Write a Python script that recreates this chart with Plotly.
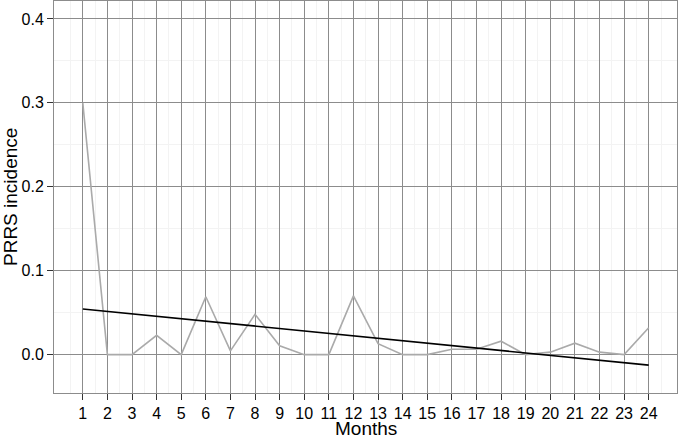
import plotly.graph_objects as go

months = list(range(1, 25))
incidence = [0.300, 0.000, 0.000, 0.023, 0.000, 0.069, 0.0045, 0.048, 0.0105, 0.000,
             0.000, 0.070, 0.013, 0.000, 0.000, 0.0065, 0.0065, 0.016, 0.000, 0.003,
             0.0137, 0.003, 0.000, 0.032]
trend_x = [1, 24]
trend_y = [0.0544, -0.0125]
x_ticks = list(range(1, 25))
y_ticks = [0.0, 0.1, 0.2, 0.3, 0.4]

fig = go.Figure()
fig.add_trace(go.Scatter(x=months, y=incidence, mode="lines",
                         line=dict(color="#aaaaaa", width=1.6), showlegend=False))
fig.add_trace(go.Scatter(x=trend_x, y=trend_y, mode="lines",
                         line=dict(color="#000000", width=1.6), showlegend=False))

font = dict(family="Liberation Sans, Arial, sans-serif", color="#000000")
fig.update_layout(
    width=678, height=438,
    margin=dict(l=54, r=1, t=1, b=45),
    paper_bgcolor="white", plot_bgcolor="white",
    font=font,
    xaxis=dict(
        range=[-0.17, 25.15], tickvals=x_ticks, ticktext=[str(t) for t in x_ticks],
        showgrid=True, gridcolor="#8c8c8c", gridwidth=1,
        minor=dict(tickvals=[t + 0.5 for t in range(-1, 25)], showgrid=True,
                   gridcolor="#f3f3f3", gridwidth=1, ticks=""),
        showline=True, mirror=True, linecolor="#8c8c8c", linewidth=1,
        ticks="outside", ticklen=6, tickcolor="#333333", tickwidth=1,
        tickfont=dict(size=16), zeroline=False, automargin=False,
    ),
    yaxis=dict(
        range=[-0.0457, 0.4214], tickvals=y_ticks, ticktext=[f"{v:.1f}" for v in y_ticks],
        showgrid=True, gridcolor="#8c8c8c", gridwidth=1,
        minor=dict(tickvals=[0.05, 0.15, 0.25, 0.35], showgrid=True,
                   gridcolor="#f3f3f3", gridwidth=1, ticks=""),
        showline=True, mirror=True, linecolor="#8c8c8c", linewidth=1,
        ticks="outside", ticklen=6, tickcolor="#333333", tickwidth=1,
        tickfont=dict(size=16), zeroline=False, automargin=False,
    ),
    annotations=[
        dict(text="Months", xref="paper", yref="paper", x=0.5, y=-0.0918,
             xanchor="center", yanchor="middle", showarrow=False,
             font=dict(size=19), borderpad=0),
        dict(text="PRRS incidence", xref="paper", yref="paper", x=-0.0706, y=0.5,
             xanchor="center", yanchor="middle", showarrow=False, textangle=-90,
             font=dict(size=19), borderpad=0),
    ],
)
fig.write_html("out.html", config={"displayModeBar": False},
               post_script="document.body.style.margin='0';document.body.style.padding='0';")
